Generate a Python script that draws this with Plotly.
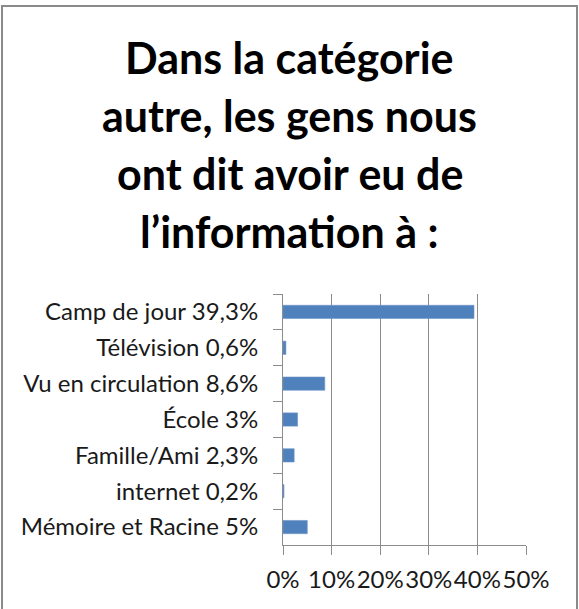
import plotly.graph_objects as go

# ---- data ----
categories = [
    "Camp de jour 39,3%",
    "Télévision 0,6%",
    "Vu en circulation 8,6%",
    "École 3%",
    "Famille/Ami 2,3%",
    "internet 0,2%",
    "Mémoire et Racine 5%",
]
values = [39.3, 0.6, 8.6, 3.0, 2.3, 0.2, 5.0]
x_ticks = [0, 10, 20, 30, 40, 50]
x_tick_labels = ["0%", "10%", "20%", "30%", "40%", "50%"]
title_lines = [
    "Dans la catégorie",
    "autre, les gens nous",
    "ont dit avoir eu de",
    "l’information à :",
]

# ---- layout geometry ----
W, H = 579, 609
L, R, T, B = 283, 53, 294, 64
PW, PH = W - L - R, H - T - B


def px_x(px):
    return (px - L) / PW


def px_y(py):
    return ((H - B) - py) / PH


BAR = "#4F81BD"
GRID = "#8C8C8C"
FONT = "Lato"

fig = go.Figure(
    go.Bar(
        x=values,
        y=categories,
        orientation="h",
        marker=dict(color=BAR, line=dict(color="#6F97C9", width=0.6)),
        width=0.37,
    )
)

annotations = []
title_size = 43
baselines = [72.7, 130.5, 188.5, 246.7]
for line, base in zip(title_lines, baselines):
    annotations.append(
        dict(
            text=f"<b>{line}</b>",
            x=px_x(W / 2),
            y=px_y(base - 0.36 * title_size),
            xref="paper",
            yref="paper",
            xanchor="center",
            yanchor="middle",
            showarrow=False,
            font=dict(family=FONT, size=title_size, color="#000000"),
        )
    )

fig.update_layout(
    width=W,
    height=H,
    margin=dict(l=L, r=R, t=T, b=B, pad=0),
    paper_bgcolor="white",
    plot_bgcolor="white",
    showlegend=False,
    annotations=annotations,
    shapes=[
        dict(
            type="rect",
            xref="paper",
            yref="paper",
            x0=px_x(2),
            x1=px_x(577),
            y0=px_y(615),
            y1=px_y(6),
            line=dict(color="#8A8A8A", width=2),
            layer="above",
        )
    ],
)

fig.update_xaxes(
    range=[0, 50],
    tickvals=x_ticks,
    ticktext=x_tick_labels,
    tickangle=0,
    showgrid=True,
    gridcolor=GRID,
    gridwidth=1,
    showline=True,
    linecolor=GRID,
    linewidth=1,
    ticks="outside",
    ticklen=9,
    tickcolor=GRID,
    zeroline=False,
    tickfont=dict(family=FONT, size=24, color="#1A1A1A"),
    ticklabelstandoff=4,
    automargin=False,
    fixedrange=True,
)
fig.update_yaxes(
    autorange=False,
    range=[6.5, -0.5],
    categoryorder="array",
    categoryarray=categories,
    showgrid=False,
    showline=True,
    linecolor=GRID,
    linewidth=1,
    ticks="outside",
    tickson="boundaries",
    ticklen=9,
    tickcolor=GRID,
    tickfont=dict(family=FONT, size=24, color="#1A1A1A"),
    ticklabelstandoff=19,
    automargin=False,
    fixedrange=True,
)

fig.write_html(
    "out.html",
    config={"displayModeBar": False},
    post_script="document.body.style.margin='0';",
)
